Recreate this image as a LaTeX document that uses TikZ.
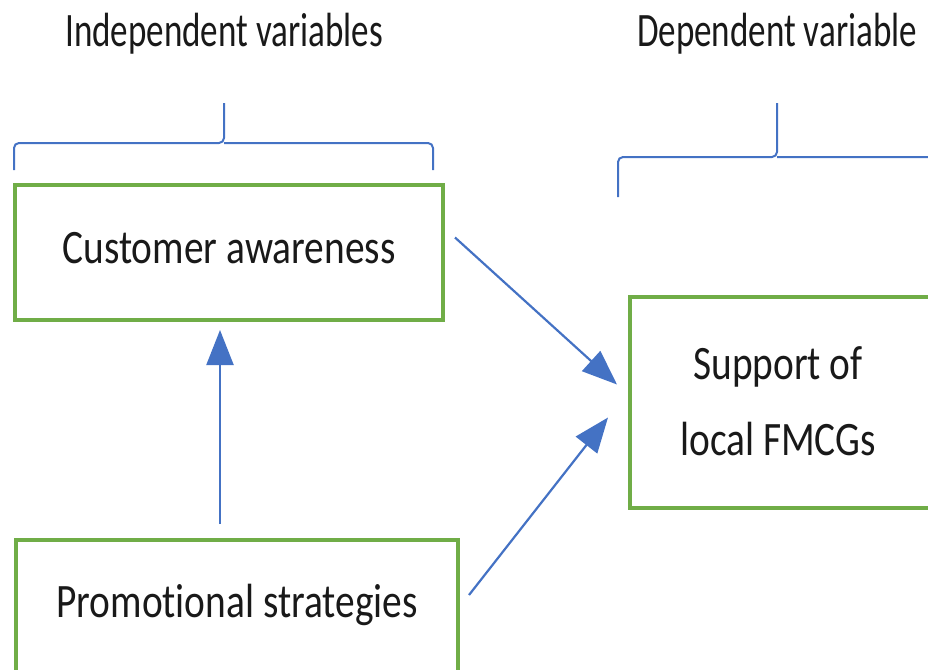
\documentclass[tikz,border=0pt]{standalone}
\usepackage{fontspec}
\newfontfamily\boxfont[FakeStretch=0.82,Ligatures=NoCommon]{Carlito}
\newfontfamily\headfont[FakeStretch=0.73,Ligatures=NoCommon]{Carlito}
\usepackage{tikz}
\usetikzlibrary{positioning,arrows.meta}
\definecolor{boxgreen}{HTML}{70AD47}
\definecolor{linkblue}{HTML}{4472C4}

\begin{document}
\begin{tikzpicture}[x=1pt, y=-1pt,
    factor/.style={rectangle, draw=boxgreen, line width=4.5pt, outer sep=0pt, inner sep=0pt,
        text centered, text=black!90, font=\boxfont\fontsize{48}{76}\selectfont},
    head/.style={anchor=base, text=black!90, font=\headfont\fontsize{48}{58}\selectfont},
    link/.style={draw=linkblue, line width=2.2pt, -{Triangle[length=35pt,width=27pt]}},
    bracket/.style={draw=linkblue, line width=2pt, rounded corners=5pt}
]
\useasboundingbox (0,0) rectangle (928,669);
\clip (0,0) rectangle (928,669);

\node [head] (indep) at (224,47) {Independent variables};
\node [head] (dep) at (777,47) {Dependent variable};

\node [factor, minimum width=428, minimum height=135, text height=34pt, text depth=13pt]
    (ca) at (229,252.5) {Customer awareness};
\node [factor, anchor=north, minimum width=442, minimum height=200, text height=34pt, text depth=80pt]
    (ps) at (237,540) {Promotional strategies};
\node [factor, minimum width=496, minimum height=211]
    (sup) at (878,402.5) {\begin{tabular}{@{}c@{\hspace{200pt}}}Support of\\local FMCGs\end{tabular}};

\draw [bracket] (14,170) |- (224,143) -- (224,103);
\draw [bracket] (433,170) |- (224,143);
\draw [bracket] (618,197) |- (777,157) -- (777,103);
\draw [bracket] (960,197) |- (777,157);

\draw [link] ([xshift=-17pt,yshift=16pt]ps.north) -- ([xshift=-9pt,yshift=-10pt]ca.south);
\draw [link] ([xshift=12pt,yshift=15pt]ca.east) -- ([xshift=-13pt,yshift=18pt]sup.west);
\draw [link] ([xshift=11pt,yshift=-55pt]ps.north east) -- ([xshift=-22pt,yshift=-15pt]sup.west);

\end{tikzpicture}
\end{document}
